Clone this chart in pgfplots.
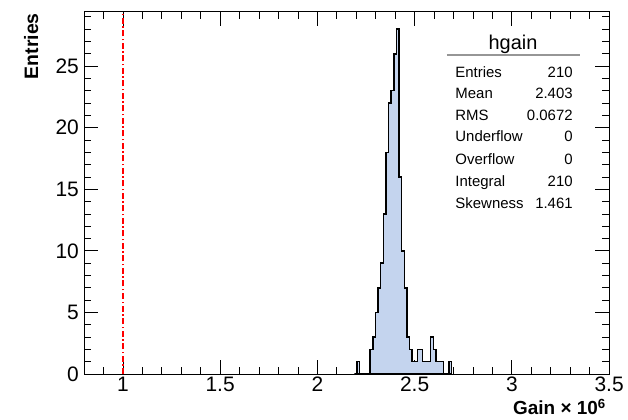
\documentclass[border=0pt]{standalone}
\usepackage{fontspec}
\setmainfont{Liberation Sans}
\usepackage{pgfplots}
\usepackage{pgfplotstable}
\pgfplotsset{compat=1.18}

\definecolor{histfill}{RGB}{196,212,238}
\definecolor{statline}{RGB}{150,150,150}

% left bin edge, entries (bin width 0.0135)
\pgfplotstableread{
x y
2.1905 0
2.2040 1
2.2175 0
2.2310 0
2.2445 0
2.2580 0
2.2715 2
2.2850 3
2.2985 5
2.3120 7
2.3255 9
2.3390 13
2.3525 18
2.3660 22
2.3795 23
2.3930 26
2.4065 28
2.4200 16
2.4335 10
2.4470 7
2.4605 3
2.4740 2
2.4875 1
2.5010 1
2.5145 2
2.5280 2
2.5415 1
2.5550 1
2.5685 1
2.5820 3
2.5955 2
2.6090 1
2.6225 1
2.6360 1
2.6495 0
2.6630 0
2.6765 1
2.6900 0
}\hgain

\begin{document}
\begin{tikzpicture}
\begin{axis}[
    scale only axis,
    width=525bp, height=362bp,
    xmin=0.8, xmax=3.5, ymin=0, ymax=29.4,
    xtick={1,1.5,2,2.5,3,3.5},
    minor xtick={0.8,0.9,1.1,1.2,1.3,1.4,1.6,1.7,1.8,1.9,2.1,2.2,2.3,2.4,2.6,2.7,2.8,2.9,3.1,3.2,3.3,3.4},
    ytick={0,5,10,15,20,25},
    minor ytick={1,2,3,4,6,7,8,9,11,12,13,14,16,17,18,19,21,22,23,24,26,27,28,29},
    tick align=inside,
    major tick length=14bp, minor tick length=7bp,
    every tick/.style={black, line width=0.8bp},
    axis line style={line width=1bp},
    ticklabel style={font=\fontsize{21}{24}\selectfont},
    xticklabel style={inner sep=3bp},
    yticklabel style={inner sep=5bp},
    /pgf/number format/assume math mode=true,
    clip=false,
]
\addplot[const plot, draw=black, line width=1.4bp, fill=histfill] table[x=x, y=y] {\hgain} \closedcycle;
\addplot[red, line width=1.5bp, dash pattern=on 6bp off 2.5bp on 1.5bp off 2.5bp] coordinates {(1,0) (1,29.4)};

% stats box
\node[anchor=base, inner sep=0pt, font=\fontsize{20}{24}\selectfont] at (axis description cs:0.817,0.896) {hgain};
\draw[statline, line width=1.5bp] (axis description cs:0.691,0.881) -- (axis description cs:0.945,0.881);
\begin{scope}[every node/.style={inner sep=0pt, font=\fontsize{15}{18}\selectfont}]
\node[anchor=base west] at (axis description cs:0.707,0.820) {Entries};
\node[anchor=base east] at (axis description cs:0.931,0.820) {210};
\node[anchor=base west] at (axis description cs:0.707,0.760) {Mean};
\node[anchor=base east] at (axis description cs:0.931,0.760) {2.403};
\node[anchor=base west] at (axis description cs:0.707,0.699) {RMS};
\node[anchor=base east] at (axis description cs:0.931,0.699) {0.0672};
\node[anchor=base west] at (axis description cs:0.707,0.641) {Underflow};
\node[anchor=base east] at (axis description cs:0.931,0.641) {0};
\node[anchor=base west] at (axis description cs:0.707,0.580) {Overflow};
\node[anchor=base east] at (axis description cs:0.931,0.580) {0};
\node[anchor=base west] at (axis description cs:0.707,0.519) {Integral};
\node[anchor=base east] at (axis description cs:0.931,0.519) {210};
\node[anchor=base west] at (axis description cs:0.707,0.456) {Skewness};
\node[anchor=base east] at (axis description cs:0.931,0.456) {1.461};
\end{scope}

% axis titles
\node[rotate=90, anchor=base east, inner sep=0pt, font=\bfseries\fontsize{19.5}{22}\selectfont] at (axis description cs:-0.0876,0.997) {Entries};
\node[anchor=base east, inner sep=0pt, font=\bfseries\fontsize{19}{22}\selectfont] at (axis description cs:0.994,-0.113) {Gain × 10\textsuperscript{6}};

% page extent
\path (axis description cs:-0.16,-0.127) rectangle (axis description cs:1.036,1.033);
\end{axis}
\end{tikzpicture}
\end{document}
